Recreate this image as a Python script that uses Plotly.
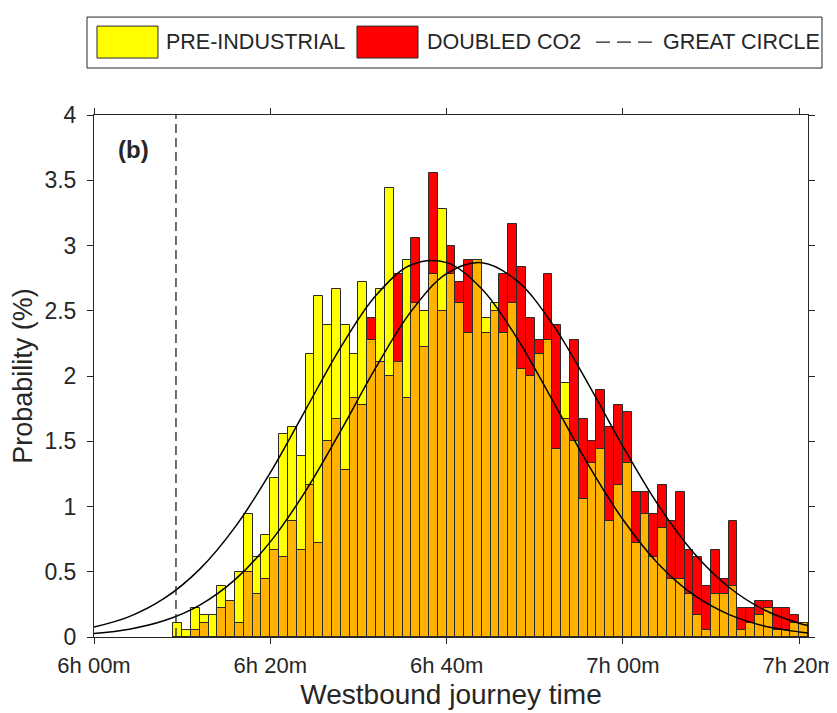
import plotly.graph_objects as go

# 1-minute bins starting at 6h 09m (369 minutes after midnight)
bin_start = 369
bin_width = 1

pre_industrial = [
    0.111, 0.056, 0.222, 0.167, 0.167, 0.389, 0.278, 0.5, 0.944, 0.611,
    0.778, 1.222, 1.556, 1.611, 1.389, 2.167, 2.611, 2.389, 2.667, 2.389,
    2.167, 2.722, 2.278, 2.667, 3.444, 2.111, 2.889, 2.556, 2.5, 2.778,
    3.278, 2.778, 2.556, 2.333, 2.889, 2.444, 2.556, 2.333, 2.556, 2.056,
    2.0, 2.167, 2.278, 1.444, 1.944, 1.5, 1.056, 1.333, 1.444, 0.889,
    1.167, 1.333, 0.722, 0.944, 0.611, 0.833, 0.444, 0.444, 0.333, 0.167,
    0.056, 0.333, 0.333, 0.389, 0.056, 0.111, 0.167, 0.222, 0.056, 0.056,
    0.111, 0.111,
]
doubled_co2 = [
    0.0, 0.0, 0.056, 0.111, 0.0, 0.222, 0.278, 0.111, 0.5, 0.333,
    0.444, 0.667, 0.611, 0.889, 0.667, 1.167, 0.722, 1.5, 1.667, 1.278,
    1.833, 1.778, 2.444, 2.111, 2.0, 2.778, 1.833, 3.056, 2.222, 3.556,
    2.5, 3.0, 2.722, 2.889, 2.889, 2.333, 2.5, 2.778, 3.167, 2.833,
    2.444, 2.278, 2.778, 2.389, 1.667, 2.278, 1.667, 1.5, 1.889, 1.611,
    1.778, 1.722, 1.111, 1.111, 0.944, 1.167, 0.889, 1.111, 0.667, 0.611,
    0.389, 0.667, 0.444, 0.889, 0.222, 0.222, 0.278, 0.278, 0.222, 0.222,
    0.167, 0.111,
]

# fitted curves
fit_minutes = [360, 364, 368, 372, 376, 380, 384, 388, 392, 396, 400,
               404, 408, 412, 416, 420, 424, 428, 432, 436, 440, 441]
fit_pre = [0.076, 0.156, 0.297, 0.52, 0.842, 1.259, 1.741, 2.222, 2.619,
           2.852, 2.869, 2.667, 2.289, 1.815, 1.329, 0.9, 0.562, 0.324,
           0.173, 0.085, 0.039, 0.031]
fit_co2 = [0.026, 0.06, 0.126, 0.245, 0.44, 0.729, 1.118, 1.581, 2.068,
           2.497, 2.784, 2.868, 2.729, 2.399, 1.948, 1.461, 1.012, 0.648,
           0.383, 0.209, 0.105, 0.088]

great_circle = 369.3

x_ticks = [360, 380, 400, 420, 440]
x_tick_labels = ["6h 00m", "6h 20m", "6h 40m", "7h 00m", "7h 20m"]

YELLOW = "#FFFF00"
RED = "#FF0000"
ORANGE = "#FFB300"
EDGE = "#2a2a2a"
TEXT = "#262626"
FONT = "Liberation Sans, Arial, sans-serif"

centres = [bin_start + bin_width * (i + 0.5) for i in range(len(pre_industrial))]
overlap = [min(a, b) for a, b in zip(pre_industrial, doubled_co2)]


def bar(y, colour):
    return go.Bar(
        x=centres,
        y=y,
        width=bin_width,
        marker=dict(color=colour, line=dict(color=EDGE, width=1)),
        showlegend=False,
        hoverinfo="x+y",
    )


fig = go.Figure()
fig.add_trace(bar(pre_industrial, YELLOW))
fig.add_trace(bar(doubled_co2, RED))
fig.add_trace(bar(overlap, ORANGE))

for fit in (fit_pre, fit_co2):
    fig.add_trace(
        go.Scatter(
            x=fit_minutes,
            y=fit,
            mode="lines",
            line=dict(color="black", width=1.5, shape="spline"),
            showlegend=False,
        )
    )

fig.add_trace(
    go.Scatter(
        x=[great_circle, great_circle],
        y=[0, 4],
        mode="lines",
        line=dict(color="#222222", width=1.3, dash="9px,5px"),
        showlegend=False,
    )
)

# legend box drawn by hand (MATLAB style, large swatches)
shapes = [
    dict(type="rect", xref="paper", yref="paper", x0=-0.0098, x1=1.0196,
         y0=1.090, y1=1.1876, line=dict(color=TEXT, width=1), fillcolor="white"),
    dict(type="rect", xref="paper", yref="paper", x0=0.0042, x1=0.0896,
         y0=1.1091, y1=1.1703, line=dict(color=EDGE, width=1), fillcolor=YELLOW),
    dict(type="rect", xref="paper", yref="paper", x0=0.3683, x1=0.4538,
         y0=1.1091, y1=1.1703, line=dict(color=EDGE, width=1), fillcolor=RED),
    dict(type="line", xref="paper", yref="paper", x0=0.7031, x1=0.7857,
         y0=1.1397, y1=1.1397, line=dict(color="#222222", width=1.3, dash="14px,7px")),
]
legend_labels = [(0.098, "PRE-INDUSTRIAL"), (0.4636, "DOUBLED CO2"),
                 (0.7941, "GREAT CIRCLE")]
annotations = [
    dict(x=x, y=1.1397, xref="paper", yref="paper", text=t, showarrow=False,
         xanchor="left", yanchor="middle", font=dict(size=21.5, color=TEXT))
    for x, t in legend_labels
]
annotations.append(
    dict(x=0.056, y=0.933, xref="paper", yref="paper", text="<b>(b)</b>",
         showarrow=False, xanchor="center", yanchor="middle",
         font=dict(size=24, color=TEXT))
)

# the page body adds an 8px margin, so the figure is sized to fill the rest
fig.update_layout(
    barmode="overlay",
    bargap=0,
    width=829,
    height=705,
    margin=dict(l=86, r=29, t=107, b=75.5),
    plot_bgcolor="white",
    paper_bgcolor="white",
    font=dict(family=FONT, color=TEXT, size=22),
    shapes=shapes,
    annotations=annotations,
    xaxis=dict(
        range=[360, 441],
        tickvals=x_ticks,
        ticktext=x_tick_labels,
        showgrid=False,
        zeroline=False,
        showline=True,
        linecolor=TEXT,
        linewidth=1,
        mirror="ticks",
        ticks="outside",
        ticklen=6,
        tickcolor=TEXT,
        tickfont=dict(size=22),
        ticklabelstandoff=3,
        ticklabeloverflow="allow",
        automargin=False,
        title=dict(text="Westbound journey time", font=dict(size=28), standoff=6),
    ),
    yaxis=dict(
        range=[0, 4],
        dtick=0.5,
        showgrid=False,
        zeroline=False,
        showline=True,
        linecolor=TEXT,
        linewidth=1,
        mirror="ticks",
        ticks="outside",
        ticklen=6,
        tickcolor=TEXT,
        tickfont=dict(size=23),
        ticklabelstandoff=6,
        automargin=False,
        title=dict(text="Probability (%)", font=dict(size=27), standoff=6),
    ),
)

fig.write_html("out.html")
